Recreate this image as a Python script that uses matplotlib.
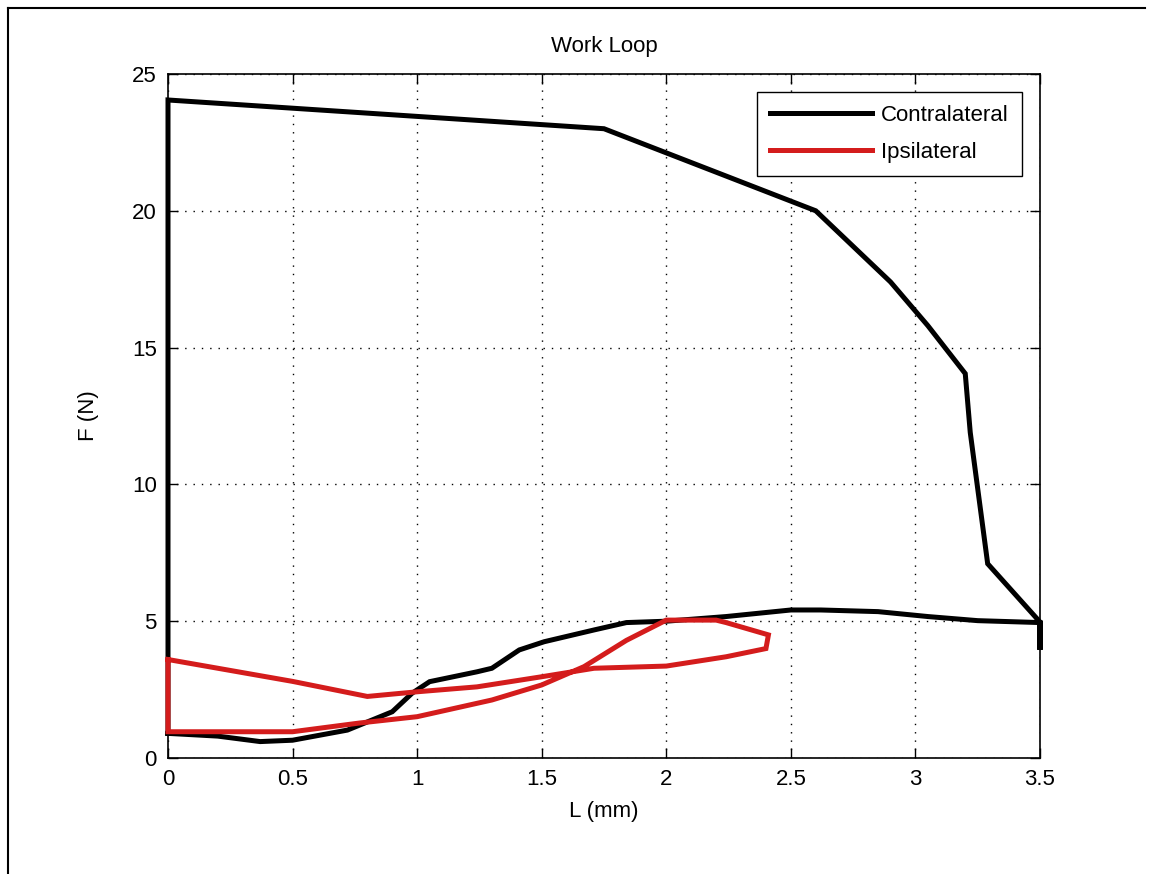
import numpy as np
import matplotlib
matplotlib.use("Agg")
import matplotlib.pyplot as plt
from matplotlib.lines import Line2D

plt.rcParams['font.family'] = ['Liberation Sans Narrow', 'Liberation Sans', 'DejaVu Sans']

# Contralateral loop (L in mm, F in N)
contra_L = [0, 0, 1.75, 2.6, 2.9, 3.05, 3.2, 3.22, 3.29, 3.5, 3.5, 3.5,
            3.25, 3.05, 2.85, 2.62, 2.5, 2.24, 2.0, 1.84, 1.71, 1.51, 1.41,
            1.3, 1.24, 1.05, 0.98, 0.9, 0.72, 0.5, 0.37, 0.2, 0]
contra_F = [0.9, 24.05, 23.0, 20.0, 17.4, 15.8, 14.05, 11.9, 7.1, 4.97, 3.95, 4.95,
            5.02, 5.17, 5.35, 5.41, 5.41, 5.17, 5.0, 4.95, 4.68, 4.25, 3.95,
            3.28, 3.15, 2.79, 2.37, 1.69, 1.02, 0.65, 0.6, 0.8, 0.9]

# Ipsilateral loop
ipsi_L = [0, 0.5, 0.8, 1.0, 1.24, 1.5, 1.71, 2.0, 2.24, 2.4, 2.41, 2.24, 2.2,
          2.0, 1.84, 1.67, 1.5, 1.3, 1.0, 0.77, 0.5, 0, 0]
ipsi_F = [3.6, 2.8, 2.25, 2.42, 2.6, 2.97, 3.28, 3.36, 3.7, 4.0, 4.5, 4.95, 5.04,
          5.04, 4.3, 3.34, 2.67, 2.12, 1.51, 1.28, 0.96, 0.96, 3.6]

xticks = [0, 0.5, 1, 1.5, 2, 2.5, 3, 3.5]
xticklabels = ['0', '0.5', '1', '1.5', '2', '2.5', '3', '3.5']
yticks = [0, 5, 10, 15, 20, 25]

fig = plt.figure(figsize=(11.6, 8.74), dpi=100)
ax = fig.add_axes([168/1160, 1-758/874, 872/1160, 684/874])

ax.plot(contra_L, contra_F, color='black', lw=3.6, label='Contralateral',
        solid_joinstyle='miter', clip_on=False, zorder=3)
ax.plot(ipsi_L, ipsi_F, color='#d41c1c', lw=3.6, label='Ipsilateral',
        solid_joinstyle='miter', clip_on=False, zorder=4)

ax.set_xlim(0, 3.5)
ax.set_ylim(0, 25)
ax.set_xticks(xticks)
ax.set_xticklabels(xticklabels)
ax.set_yticks(yticks)
ax.grid(True, color='black', linestyle=(0, (1, 5)), linewidth=1.0)
ax.tick_params(direction='in', length=7, width=1, top=True, right=True,
               labelsize=16, pad=8)
for s in ax.spines.values():
    s.set_linewidth(1.2)

ax.set_title('Work Loop', fontsize=16, pad=16)
ax.set_xlabel('L (mm)', fontsize=16, labelpad=8)
ax.set_ylabel('F (N)', fontsize=16, labelpad=24)

leg = ax.legend(loc='upper right', fontsize=16, fancybox=False, framealpha=1,
                edgecolor='black', handlelength=4.6, borderaxespad=0.8,
                handletextpad=0.4, labelspacing=0.7, borderpad=0.6)
leg.get_frame().set_linewidth(1.0)

# figure frame lines
fig.add_artist(Line2D([8/1160, 8/1160], [0, 1-8/874], color='black', lw=1.5))
fig.add_artist(Line2D([8/1160, 1145/1160], [1-8/874, 1-8/874], color='black', lw=1.5))

fig.savefig('out.png', dpi=100)
